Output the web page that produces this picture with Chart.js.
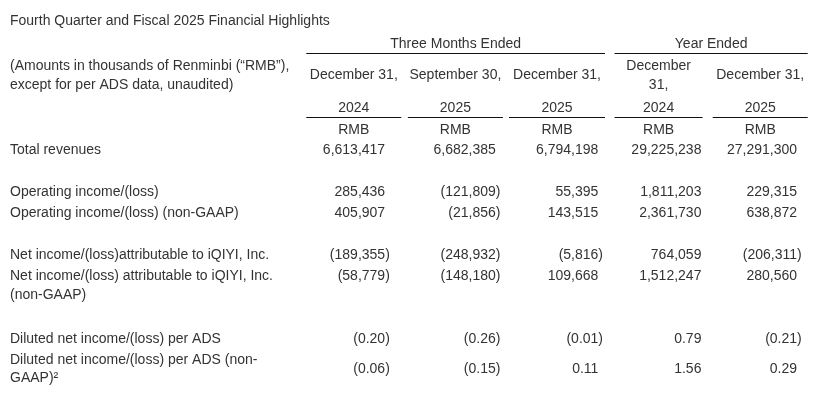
<!DOCTYPE html>
<html>
<head>
<meta charset="utf-8">
<title>Fourth Quarter and Fiscal 2025 Financial Highlights</title>
<script src="https://cdn.jsdelivr.net/npm/chart.js@4.4.1/dist/chart.umd.min.js"></script>
<style>
  html, body { margin: 0; padding: 0; background: #fff; }
  canvas { display: block; }
</style>
</head>
<body>
<canvas id="table" width="820" height="402"></canvas>
<script>
'use strict';

/*--- data ---*/
var title = 'Fourth Quarter and Fiscal 2025 Financial Highlights';
var note = ['(Amounts in thousands of Renminbi (\u201cRMB\u201d),', 'except for per ADS data, unaudited)'];
var groups = ['Three Months Ended', 'Year Ended'];
var groupCols = [[0, 2], [3, 4]];
var columns = ['Q4 2024', 'Q3 2025', 'Q4 2025', 'FY 2024', 'FY 2025'];
var colDates = [['December 31,'], ['September 30,'], ['December 31,'], ['December', '31,'], ['December 31,']];
var colYears = ['2024', '2025', '2025', '2024', '2025'];
var currency = 'RMB';

var rowLabels = [
  'Total revenues',
  '',
  'Operating income/(loss)',
  'Operating income/(loss) (non-GAAP)',
  '',
  'Net income/(loss)attributable to iQIYI, Inc.',
  'Net income/(loss) attributable to iQIYI, Inc.',
  '(non-GAAP)',
  '',
  'Diluted net income/(loss) per ADS',
  'Diluted net income/(loss) per ADS (non-',
  'GAAP)\u00b2'
];

var totalRevenues = [6613417, 6682385, 6794198, 29225238, 27291300];
var operatingIncome = [285436, -121809, 55395, 1811203, 229315];
var operatingIncomeNonGaap = [405907, -21856, 143515, 2361730, 638872];
var netIncome = [-189355, -248932, -5816, 764059, -206311];
var netIncomeNonGaap = [-58779, -148180, 109668, 1512247, 280560];
var dilutedEps = [-0.20, -0.26, -0.01, 0.79, -0.21];
var dilutedEpsNonGaap = [-0.06, -0.15, 0.11, 1.56, 0.29];

/*--- layout ---*/
var FAMILY = '"Liberation Sans", Arial, Helvetica, sans-serif';
var FONT = '14px ' + FAMILY;
var TEXT = '#333';
var RULE = '#111';
var ROW_H = 21;         // px per row unit
var FIRST_ROW = 150;    // px of row 0
var AREA_TOP = 36;      // title box height
var H = 402;
var yMin = -(FIRST_ROW - AREA_TOP) / ROW_H;
var yMax = yMin + (H - AREA_TOP) / ROW_H;

// where each label row sits (wrapped lines sit closer)
var rowPos = [0, 1, 2, 3, 4, 5, 6, 6.9, 8, 9, 10, 10.85];
// header rows, in row units
var GROUP_ROW = -5.02, GROUP_RULE = -4.6, DATE_ROW = -3.55, WRAP = 0.905;
var YEAR_ROW = -1.98, YEAR_RULE = -1.55, UNIT_ROW = -0.93;
// right edge of ')' from column centre, half width of rules
var valueEdge = [36, 45, 46, 47.5, 41.5];
var ruleHalf = [47.5, 47.5, 48, 44, 47.5];

var metrics = [
  { values: totalRevenues, row: 0, dp: 0 },
  { values: operatingIncome, row: 2, dp: 0 },
  { values: operatingIncomeNonGaap, row: 3, dp: 0 },
  { values: netIncome, row: 5, dp: 0 },
  { values: netIncomeNonGaap, row: 6, dp: 0 },
  { values: dilutedEps, row: 9, dp: 2 },
  { values: dilutedEpsNonGaap, row: 10.425, dp: 2 }
];

function fmt(v, dp) {
  var s = Math.abs(v).toLocaleString('en-US', { minimumFractionDigits: dp, maximumFractionDigits: dp });
  return v < 0 ? '(' + s + ')' : s;
}

/*--- plugin: header + cell values ---*/
var tablePlugin = {
  id: 'tableText',
  afterDraw: function (chart) {
    var ctx = chart.ctx, x = chart.scales.x, y = chart.scales.y;
    ctx.save();
    ctx.font = FONT;
    ctx.fillStyle = TEXT;
    ctx.strokeStyle = RULE;
    ctx.lineWidth = 1;
    ctx.textBaseline = 'middle';

    function rule(c0, c1, row) {
      var py = Math.round(y.getPixelForValue(row)) + 0.5;
      ctx.beginPath();
      ctx.moveTo(x.getPixelForValue(c0) - ruleHalf[c0], py);
      ctx.lineTo(x.getPixelForValue(c1) + ruleHalf[c1], py);
      ctx.stroke();
    }

    // left note
    ctx.textAlign = 'left';
    ctx.fillText(note[0], y.left, y.getPixelForValue(DATE_ROW - WRAP / 2));
    ctx.fillText(note[1], y.left, y.getPixelForValue(DATE_ROW + WRAP / 2));

    // group headers
    ctx.textAlign = 'center';
    groups.forEach(function (g, i) {
      var c = groupCols[i];
      var l = x.getPixelForValue(c[0]) - ruleHalf[c[0]];
      var r = x.getPixelForValue(c[1]) + ruleHalf[c[1]];
      ctx.fillText(g, (l + r) / 2, y.getPixelForValue(GROUP_ROW));
      rule(c[0], c[1], GROUP_RULE);
    });

    // column headers
    columns.forEach(function (col, i) {
      var cx = x.getPixelForValue(i);
      var lines = colDates[i];
      lines.forEach(function (t, k) {
        var off = (k - (lines.length - 1) / 2) * WRAP;
        ctx.fillText(t, cx, y.getPixelForValue(DATE_ROW + off));
      });
      ctx.fillText(colYears[i], cx, y.getPixelForValue(YEAR_ROW));
      rule(i, i, YEAR_RULE);
      ctx.fillText(currency, cx, y.getPixelForValue(UNIT_ROW));
    });

    // values at the points placed by the scales
    ctx.textAlign = 'right';
    var close = ctx.measureText(')').width;
    chart.data.datasets.forEach(function (ds, di) {
      chart.getDatasetMeta(di).data.forEach(function (el, i) {
        var v = ds.data[i].v;
        var px = el.x + valueEdge[i] - (v < 0 ? 0 : close);
        ctx.fillText(fmt(v, ds.dp), px, el.y);
      });
    });
    ctx.restore();
  }
};

/*--- chart ---*/
var datasets = metrics.map(function (m) {
  return {
    dp: m.dp,
    data: m.values.map(function (v, i) { return { x: columns[i], y: m.row, v: v }; }),
    pointRadius: 0,
    pointHoverRadius: 0,
    showLine: false
  };
});

new Chart(document.getElementById('table'), {
  type: 'scatter',
  data: { datasets: datasets },
  plugins: [tablePlugin],
  options: {
    responsive: false,
    animation: false,
    events: [],
    layout: { padding: { left: 10, right: 9, top: 0, bottom: 0 } },
    plugins: {
      legend: { display: false },
      tooltip: { enabled: false },
      title: {
        display: true,
        text: title,
        align: 'start',
        color: TEXT,
        font: { family: FAMILY, size: 14, weight: 'normal', lineHeight: 1.2 },
        padding: { top: 13, bottom: AREA_TOP - 13 - 16.8 }
      }
    },
    scales: {
      x: {
        type: 'category',
        labels: columns,
        offset: true,
        display: false
      },
      y: {
        type: 'linear',
        reverse: true,
        min: yMin,
        max: yMax,
        grid: { display: false },
        border: { display: false },
        afterBuildTicks: function (axis) {
          axis.ticks = rowPos.map(function (p) { return { value: p }; });
        },
        afterFit: function (axis) {
          axis.width = 293;
          axis.paddingTop = 0;
          axis.paddingBottom = 0;
        },
        ticks: {
          autoSkip: false,
          crossAlign: 'far',
          padding: 0,
          color: TEXT,
          font: { family: FAMILY, size: 14 },
          callback: function (v, i) { return rowLabels[i] || ''; }
        }
      }
    }
  }
});
</script>
</body>
</html>
